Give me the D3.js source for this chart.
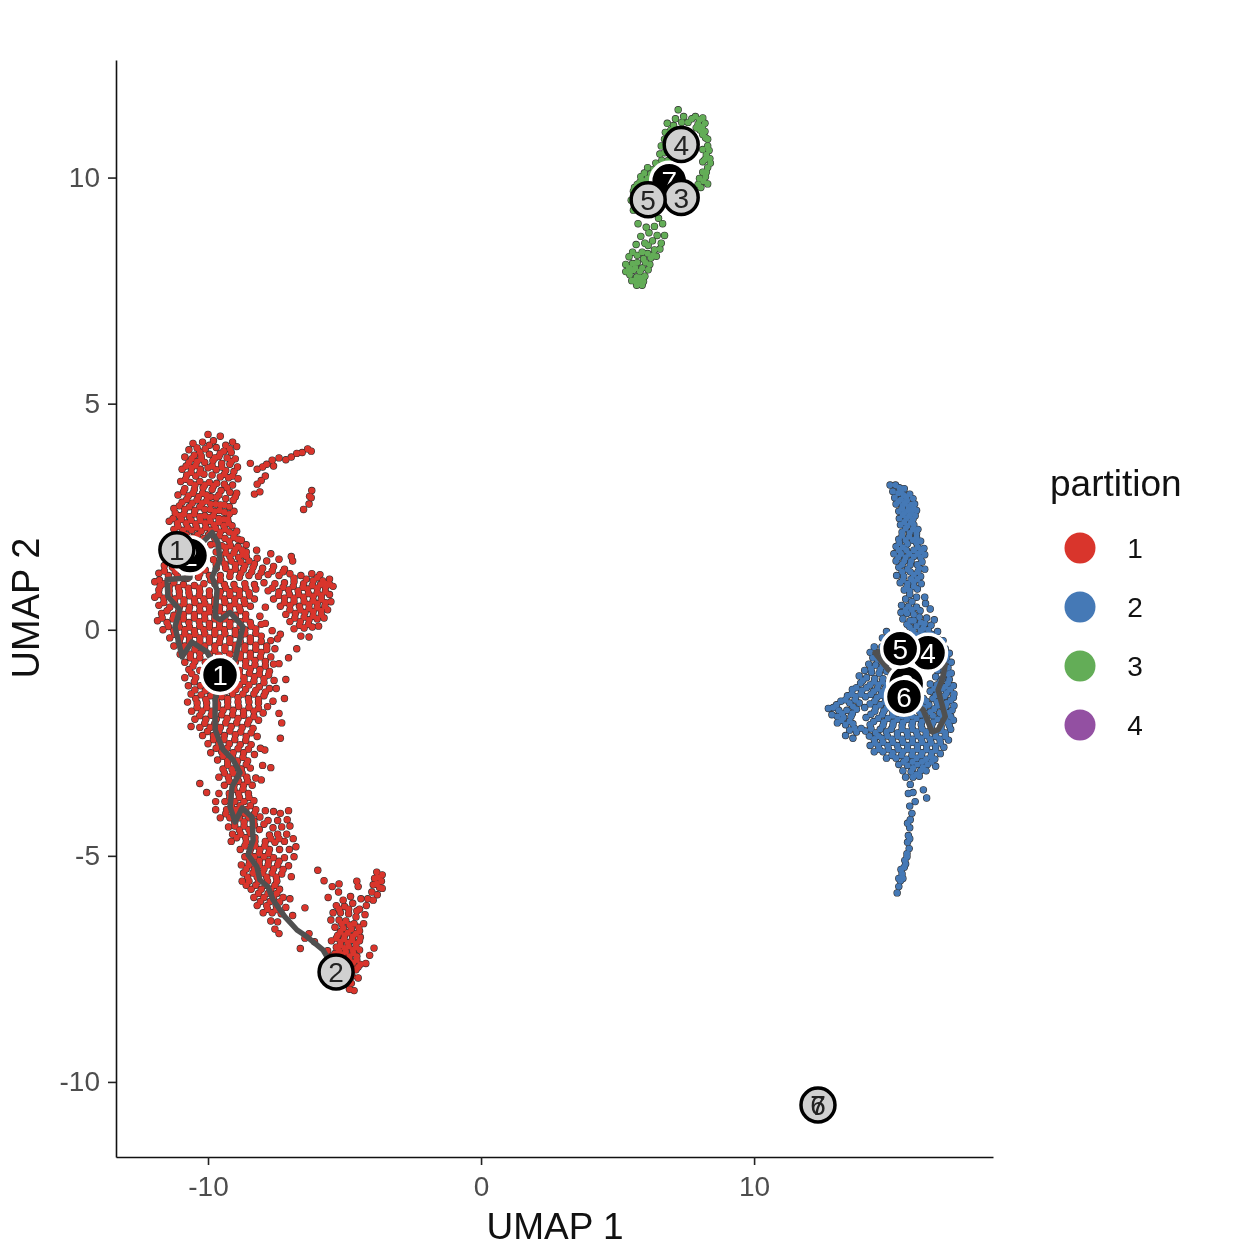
<!DOCTYPE html>
<html>
<head>
<meta charset="utf-8">
<script src="https://cdn.jsdelivr.net/npm/d3@7"></script>
<style>
  body { margin: 0; background: #fff; }
  text { font-family: "Liberation Sans", sans-serif; }
  svg { filter: blur(0.45px); }
</style>
</head>
<body>
<script>
// cells of partition 1 top to bottom
const cellsP1 = [
[-10.0,4.32],[-9.55,4.28],[-9.1,4.15],[-10.55,4.12],[-10.2,4.15],[-9.8,4.18],[-9.35,4.08],[-8.95,4.05],[-10.7,3.98],[-10.4,4.02],[-10.1,4.0],[-9.7,4.03],[-9.42,3.95],[-9.15,3.92],
[-10.85,3.82],[-10.5,3.86],[-10.25,3.84],[-9.95,3.88],[-9.6,3.83],[-9.3,3.8],[-9.0,3.78],[-10.7,3.7],[-10.4,3.72],[-10.12,3.7],[-9.82,3.74],[-9.5,3.68],[-9.2,3.66],[-8.92,3.6],
[-10.95,3.55],[-10.6,3.58],[-10.28,3.55],[-10.0,3.58],[-9.7,3.54],[-9.35,3.52],[-9.05,3.5],[-10.78,3.42],[-10.45,3.4],[-10.15,3.44],[-9.55,3.38],[-9.25,3.36],[-8.9,3.34],
[-11.0,3.28],[-10.65,3.26],[-10.3,3.28],[-9.95,3.26],[-9.68,3.24],[-9.4,3.22],[-9.1,3.2],[-10.85,3.12],[-10.5,3.1],[-10.18,3.14],[-9.85,3.1],[-9.52,3.08],[-9.2,3.04],[-8.95,3.02],
[-11.1,2.98],[-10.72,2.96],[-10.35,2.94],[-10.05,2.98],[-9.7,2.92],[-9.35,2.9],[-9.08,2.86],[-10.95,2.82],[-10.58,2.8],[-10.22,2.8],[-9.9,2.78],[-9.55,2.76],[-9.22,2.72],
[-11.25,2.68],[-10.85,2.66],[-10.48,2.64],[-10.12,2.66],[-9.75,2.62],[-9.4,2.6],[-9.05,2.62],[-11.05,2.52],[-10.68,2.5],[-10.3,2.5],[-9.95,2.48],[-9.6,2.46],[-9.28,2.44],
[-11.42,2.4],[-11.12,2.36],[-10.8,2.36],[-10.45,2.34],[-10.1,2.36],[-9.78,2.32],[-9.42,2.3],[-9.12,2.3],[-11.25,2.22],[-10.92,2.2],[-10.6,2.2],[-10.25,2.18],[-9.9,2.2],[-9.55,2.16],[-9.22,2.16],[-8.95,2.18],
[-11.35,2.04],[-11.0,2.06],[-10.55,2.04],[-10.15,2.02],[-9.75,2.02],[-9.38,2.02],[-9.05,2.04],[-8.78,1.98],[-9.9,1.88],[-9.5,1.86],[-9.18,1.86],[-8.9,1.84],[-8.6,1.88],[-9.7,1.72],[-9.35,1.7],[-9.05,1.7],[-8.72,1.66],
[-9.8,1.55],[-9.5,1.54],[-9.15,1.52],[-8.8,1.5],[-8.5,1.52],[-8.2,1.58],[-7.85,1.52],[-7.4,1.56],[-6.9,1.52],
[-11.6,1.42],[-11.3,1.38],[-10.9,1.34],[-10.5,1.3],[-10.1,1.32],[-9.7,1.36],[-9.35,1.36],[-9.0,1.34],[-8.7,1.34],[-8.35,1.38],[-8.0,1.36],[-7.6,1.4],[-7.2,1.34],
[-11.8,1.25],[-11.45,1.2],[-11.12,1.18],[-10.75,1.14],[-10.35,1.16],[-9.95,1.2],[-9.55,1.2],[-9.2,1.18],[-8.85,1.16],[-8.5,1.2],[-8.15,1.18],[-7.8,1.22],[-7.4,1.2],[-7.0,1.24],[-6.6,1.2],[-6.2,1.24],[-5.9,1.22],
[-11.95,1.06],[-11.6,1.02],[-11.25,1.04],[-10.9,1.0],[-10.5,0.98],[-10.15,1.02],[-9.75,1.02],[-9.4,1.0],[-9.05,1.0],[-8.65,1.02],[-8.3,1.0],[-7.95,1.04],[-7.55,1.02],[-7.2,1.04],[-6.85,1.06],[-6.5,1.02],[-6.15,1.08],[-5.8,1.08],[-5.55,1.12],
[-11.8,0.88],[-11.42,0.86],[-11.05,0.84],[-10.7,0.82],[-10.3,0.84],[-9.95,0.86],[-9.55,0.84],[-9.2,0.84],[-8.85,0.86],[-8.5,0.82],[-7.8,0.86],[-7.4,0.84],[-7.05,0.88],[-6.7,0.86],[-6.35,0.9],[-6.0,0.92],[-5.7,0.94],[-5.42,0.96],
[-11.95,0.72],[-11.62,0.7],[-11.22,0.68],[-10.88,0.66],[-10.5,0.68],[-10.15,0.68],[-9.75,0.66],[-9.4,0.68],[-9.02,0.68],[-8.68,0.66],[-8.3,0.68],[-7.6,0.68],[-7.2,0.7],[-6.85,0.7],[-6.5,0.72],[-6.15,0.74],[-5.85,0.76],[-5.55,0.78],
[-11.8,0.54],[-11.4,0.5],[-11.05,0.5],[-10.68,0.5],[-10.3,0.52],[-9.95,0.5],[-9.58,0.5],[-9.2,0.52],[-8.85,0.5],[-8.45,0.52],[-7.9,0.5],[-7.35,0.52],[-7.0,0.54],[-6.65,0.52],[-6.3,0.56],[-6.0,0.58],[-5.7,0.6],[-5.5,0.62],
[-11.7,0.36],[-11.25,0.32],[-10.9,0.34],[-10.5,0.34],[-10.12,0.34],[-9.75,0.32],[-9.4,0.34],[-9.0,0.32],[-8.62,0.34],[-8.1,0.3],[-7.15,0.34],[-6.8,0.36],[-6.45,0.38],[-6.15,0.4],[-5.85,0.42],[-5.62,0.44],
[-11.85,0.2],[-11.5,0.16],[-11.08,0.16],[-10.7,0.16],[-10.32,0.18],[-9.95,0.14],[-9.58,0.16],[-9.2,0.16],[-8.82,0.18],[-8.45,0.16],[-7.9,0.14],[-7.0,0.18],[-6.62,0.18],[-6.3,0.22],[-6.0,0.24],[-5.75,0.26],
[-11.65,0.0],[-11.25,-0.02],[-10.85,0.0],[-10.5,-0.02],[-10.15,0.0],[-9.75,-0.02],[-9.4,0.0],[-9.0,-0.02],[-8.65,0.0],[-8.25,0.02],[-7.65,-0.02],[-6.85,0.02],[-6.48,0.04],[-6.18,0.06],[-5.95,0.08],
[-11.4,-0.18],[-11.02,-0.18],[-10.68,-0.16],[-10.3,-0.18],[-9.95,-0.18],[-9.55,-0.18],[-9.2,-0.2],[-8.82,-0.16],[-8.45,-0.18],[-8.05,-0.14],[-7.45,-0.2],[-6.6,-0.14],[-6.3,-0.16],
[-11.25,-0.36],[-10.85,-0.36],[-10.48,-0.34],[-10.12,-0.36],[-9.75,-0.36],[-9.38,-0.38],[-9.0,-0.34],[-8.65,-0.36],[-8.25,-0.34],[-7.85,-0.36],[-7.55,-0.42],[-6.75,-0.42],
[-11.02,-0.54],[-10.65,-0.54],[-10.3,-0.52],[-9.95,-0.54],[-9.6,-0.56],[-9.2,-0.54],[-8.82,-0.54],[-8.45,-0.52],[-8.05,-0.5],[-7.7,-0.6],[-10.85,-0.72],[-10.48,-0.7],[-10.1,-0.72],[-9.0,-0.72],[-8.62,-0.7],[-8.28,-0.68],[-7.9,-0.7],[-7.6,-0.76],
[-10.7,-0.88],[-10.3,-0.9],[-8.85,-0.9],[-8.45,-0.86],[-8.1,-0.88],[-7.75,-0.92],[-10.85,-1.06],[-10.45,-1.06],[-8.68,-1.06],[-8.3,-1.04],[-7.95,-1.08],[-7.58,-1.12],
[-10.72,-1.24],[-10.28,-1.24],[-9.95,-1.3],[-9.2,-1.28],[-8.85,-1.22],[-8.5,-1.22],[-8.12,-1.26],[-7.75,-1.3],
[-10.62,-1.42],[-10.25,-1.44],[-9.9,-1.46],[-9.5,-1.48],[-9.1,-1.42],[-8.72,-1.42],[-8.32,-1.42],[-7.95,-1.46],[-10.75,-1.6],[-10.4,-1.62],[-10.05,-1.62],[-9.65,-1.64],[-9.28,-1.6],[-8.9,-1.6],[-8.5,-1.6],[-8.15,-1.62],[-7.82,-1.7],
[-10.6,-1.8],[-10.22,-1.8],[-9.85,-1.8],[-9.45,-1.78],[-9.08,-1.78],[-8.7,-1.8],[-8.32,-1.8],[-7.98,-1.84],[-10.48,-1.98],[-10.08,-1.98],[-9.7,-1.98],[-9.3,-1.96],[-8.9,-1.96],[-8.5,-2.0],[-8.15,-2.0],
[-10.62,-2.14],[-10.3,-2.16],[-9.92,-2.16],[-9.55,-2.16],[-9.15,-2.14],[-8.75,-2.16],[-8.35,-2.18],[-10.2,-2.34],[-9.8,-2.34],[-9.4,-2.34],[-9.0,-2.32],[-8.6,-2.36],[-8.2,-2.36],
[-10.0,-2.52],[-9.6,-2.52],[-9.22,-2.52],[-8.82,-2.54],[-8.42,-2.54],[-8.08,-2.62],[-9.9,-2.72],[-9.5,-2.7],[-9.08,-2.72],[-8.7,-2.72],[-8.3,-2.76],[-9.65,-2.88],[-9.28,-2.9],[-8.92,-2.9],[-8.55,-2.9],[-7.35,-2.4],
[-9.45,-3.08],[-9.12,-3.08],[-8.78,-3.08],[-8.45,-3.06],[-9.6,-3.26],[-9.25,-3.26],[-8.92,-3.26],[-8.58,-3.26],[-8.25,-3.28],[-10.3,-3.4],[-9.4,-3.44],[-9.05,-3.44],[-8.7,-3.44],[-8.38,-3.44],
[-9.6,-3.62],[-9.22,-3.62],[-8.88,-3.62],[-8.52,-3.62],[-9.72,-3.8],[-9.38,-3.8],[-9.02,-3.8],[-8.68,-3.8],[-8.32,-3.78],[-9.72,-3.98],[-9.32,-3.98],[-8.98,-3.98],[-8.62,-3.98],[-8.25,-3.98],[-7.9,-4.0],[-7.6,-4.02],
[-9.55,-4.16],[-9.2,-4.16],[-8.85,-4.16],[-8.5,-4.16],[-8.1,-4.14],[-7.35,-4.06],[-7.05,-4.0],[-7.45,-4.22],[-7.1,-4.2],
[-9.25,-4.36],[-9.02,-4.34],[-8.68,-4.34],[-8.3,-4.32],[-7.95,-4.3],[-7.62,-4.38],[-7.3,-4.36],[-7.0,-4.34],[-9.1,-4.52],[-8.8,-4.52],[-8.45,-4.5],[-7.75,-4.54],[-7.45,-4.52],[-7.12,-4.52],[-9.15,-4.68],[-8.6,-4.7],[-8.28,-4.68],[-7.9,-4.68],[-7.55,-4.7],[-7.2,-4.68],[-6.88,-4.62],
[-8.82,-4.86],[-8.45,-4.86],[-8.1,-4.86],[-7.75,-4.86],[-7.38,-4.86],[-7.02,-4.86],[-6.78,-4.8],[-8.65,-5.02],[-8.3,-5.02],[-7.95,-5.02],[-7.6,-5.04],[-7.2,-5.04],[-6.85,-5.02],[-8.78,-5.2],[-8.5,-5.2],[-8.12,-5.2],[-7.8,-5.2],[-7.45,-5.2],[-7.05,-5.22],
[-8.7,-5.38],[-8.35,-5.38],[-8.0,-5.38],[-7.65,-5.38],[-7.3,-5.4],[-6.95,-5.46],[-8.75,-5.56],[-8.5,-5.56],[-8.15,-5.56],[-7.82,-5.56],[-7.48,-5.56],[-8.42,-5.74],[-8.05,-5.74],[-7.7,-5.74],[-7.38,-5.74],[-8.32,-5.92],[-7.95,-5.92],[-7.6,-5.92],[-7.25,-5.92],[-7.0,-5.95],
[-8.2,-6.1],[-7.85,-6.1],[-7.5,-6.1],[-7.15,-6.14],[-7.98,-6.26],[-7.65,-6.26],[-7.32,-6.28],[-7.7,-6.44],[-7.45,-6.46],[-7.55,-6.62],[-7.4,-6.72],
[-5.98,-5.32],[-5.75,-5.55],[-5.45,-5.68],[-5.2,-5.62],[-5.6,-5.92],[-5.22,-5.8],[-3.82,-5.36],[-3.62,-5.42],[-3.9,-5.5],[-3.65,-5.56],[-3.95,-5.64],[-3.72,-5.7],[-3.62,-5.72],[-4.55,-5.56],[-4.5,-5.68],[-4.0,-5.8],[-3.8,-5.86],[-4.15,-5.95],[-4.4,-5.95],[-3.95,-5.98],
[-5.05,-5.98],[-4.78,-5.9],[-4.7,-6.05],[-5.3,-6.1],[-5.0,-6.12],[-4.2,-6.1],[-4.45,-6.18],[-5.42,-6.26],[-5.15,-6.26],[-4.85,-6.28],[-4.58,-6.35],[-4.25,-6.3],[-5.5,-6.42],[-5.2,-6.42],[-4.95,-6.44],[-4.65,-6.5],[-4.3,-6.5],
[-5.35,-6.58],[-5.05,-6.6],[-4.75,-6.62],[-4.45,-6.66],[-5.25,-6.76],[-5.0,-6.76],[-4.7,-6.78],[-4.42,-6.8],[-5.48,-6.88],[-5.15,-6.9],[-4.88,-6.92],[-4.58,-6.94],[-5.3,-7.02],[-5.0,-7.04],[-4.7,-7.08],[-4.45,-7.08],
[-5.62,-7.1],[-5.35,-7.16],[-5.08,-7.18],[-4.82,-7.22],[-4.55,-7.22],[-3.92,-7.04],[-4.08,-7.2],[-4.22,-7.38],[-5.62,-7.26],[-5.22,-7.3],[-4.95,-7.32],[-4.68,-7.36],[-4.42,-7.4],[-4.85,-7.5],[-4.58,-7.52],[-4.72,-7.66],[-4.5,-7.7],[-4.75,-7.82],[-4.82,-7.95],[-4.65,-7.98],
[-6.45,-6.15],[-6.9,-6.32],[-6.62,-7.05],[-6.45,-6.82],[-6.1,-6.9],[-6.3,-6.72]
];

const cellsP1Extra = [
// streak up and to the right, and the few cells under it
[-8.45,3.68],[-8.2,3.55],[-8.0,3.6],[-7.85,3.66],[-7.6,3.62],[-7.9,3.4],[-8.05,3.3],[-8.2,3.22],[-8.1,3.05],[-8.3,3.0],[-7.65,3.75],[-7.4,3.8],[-7.15,3.76],[-6.95,3.82],[-6.75,3.9],[-6.55,3.92],[-6.35,4.0],[-6.22,3.95],
[-6.2,3.08],[-6.22,2.92],[-6.3,2.78],[-6.5,2.66],[-6.28,2.95],
// loose cells round the main body
[-8.22,1.76],[-7.7,1.68],[-6.95,1.62],[-8.6,1.72],[-8.05,0.12],[-7.35,-0.1],[-7.05,-0.62],[-7.4,-0.75],[-7.15,-1.1],[-7.5,-1.3],[-7.2,-1.52],[-7.62,-1.58],[-7.3,-2.06],[-7.4,-1.85],
[-10.05,-3.6],[-8.05,-3.32],[-7.92,-2.66],[-8.0,-3.0],[-7.7,-3.05]
];

// second pass over the dense parts of partition 1
const cellsP1Fill = [
[-10.3,3.93],[-9.95,4.08],[-9.55,3.9],[-9.2,4.0],[-10.6,3.78],[-10.25,3.78],[-9.75,3.8],[-9.15,3.72],[-10.8,3.62],[-10.45,3.63],[-9.85,3.62],[-9.5,3.6],[-10.62,3.48],[-10.3,3.47],[-9.85,3.42],[-9.4,3.44],[-9.1,3.4],
[-10.82,3.33],[-10.48,3.2],[-10.12,3.2],[-9.8,3.18],[-9.3,3.14],[-9.6,2.98],[-10.9,3.05],[-10.55,3.02],[-10.2,3.02],[-9.9,2.94],[-9.0,2.94],[-10.78,2.88],[-10.4,2.87],[-10.05,2.85],[-9.72,2.78],[-9.4,2.76],
[-11.05,2.74],[-10.68,2.72],[-10.3,2.72],[-9.92,2.66],[-9.58,2.64],[-9.22,2.56],[-11.2,2.58],[-10.88,2.56],[-10.5,2.56],[-10.12,2.52],[-9.8,2.52],[-9.42,2.44],[-11.28,2.46],[-10.98,2.44],[-10.62,2.42],[-10.28,2.42],[-9.92,2.4],[-9.6,2.38],[-9.25,2.36],
[-11.1,2.28],[-10.75,2.26],[-10.42,2.26],[-10.08,2.26],[-9.72,2.24],[-9.38,2.22],[-9.05,2.12],[-11.18,2.12],[-10.8,2.1],[-10.38,2.1],[-9.98,2.1],[-9.58,2.08],[-9.22,1.96],[-8.9,2.0],[-9.72,1.9],[-9.35,1.82],[-9.0,1.78],[-8.75,1.76],[-9.55,1.64],[-9.2,1.62],[-8.88,1.6],[-8.6,1.62],[-8.3,1.46],[-8.65,1.42],[-9.0,1.44],[-9.38,1.45],[-9.7,1.45],
[-11.78,1.1],[-11.6,1.3],[-11.2,1.28],[-10.7,1.25],[-10.3,1.24],[-9.9,1.1],[-9.55,1.1],[-9.18,1.27],[-8.8,1.25],[-8.4,1.28],[-8.05,1.27],[-7.65,1.3],[-7.25,1.28],[-6.85,1.14],[-6.4,1.12],[-6.0,1.15],[-5.7,1.02],
[-11.75,0.97],[-11.42,0.95],[-11.08,0.93],[-10.72,0.92],[-10.32,0.92],[-9.35,0.92],[-9.0,0.9],[-8.62,0.92],[-8.25,0.9],[-7.65,0.92],[-7.25,0.94],[-6.88,0.96],[-6.52,0.94],[-6.18,0.98],[-5.88,1.0],[-5.55,1.0],
[-11.8,0.78],[-11.42,0.76],[-11.05,0.75],[-10.68,0.75],[-10.32,0.76],[-9.95,0.76],[-9.58,0.75],[-9.2,0.76],[-8.85,0.76],[-8.48,0.75],[-7.42,0.76],[-7.02,0.78],[-6.68,0.78],[-6.32,0.8],[-6.0,0.82],[-5.7,0.84],
[-11.62,0.6],[-11.22,0.58],[-10.88,0.58],[-10.48,0.6],[-10.12,0.58],[-9.75,0.58],[-9.38,0.6],[-9.02,0.58],[-8.65,0.58],[-7.2,0.6],[-6.85,0.62],[-6.48,0.62],[-6.15,0.64],[-5.85,0.67],
[-11.5,0.42],[-11.08,0.4],[-10.7,0.42],[-10.3,0.42],[-9.95,0.4],[-9.58,0.42],[-9.2,0.42],[-8.82,0.42],[-7.0,0.44],[-6.62,0.44],[-6.3,0.47],[-6.0,0.49],[-5.72,0.52],
[-11.68,0.26],[-11.28,0.24],[-10.9,0.24],[-10.5,0.26],[-10.12,0.24],[-9.75,0.24],[-9.38,0.24],[-9.0,0.24],[-8.62,0.24],[-6.82,0.26],[-6.48,0.28],[-6.15,0.3],[-5.85,0.33],
[-11.45,0.07],[-11.05,0.06],[-10.68,0.06],[-10.3,0.08],[-9.95,0.06],[-9.58,0.06],[-9.2,0.08],[-8.82,0.08],[-8.42,0.08],[-6.65,0.1],[-6.32,0.12],
[-11.22,-0.1],[-10.85,-0.09],[-10.48,-0.1],[-10.12,-0.09],[-9.75,-0.1],[-9.38,-0.09],[-9.0,-0.1],[-8.65,-0.09],[-8.25,-0.08],[-11.05,-0.27],[-10.68,-0.26],[-10.3,-0.27],[-9.95,-0.27],[-9.58,-0.28],[-9.2,-0.28],[-8.82,-0.26],[-8.45,-0.26],[-8.05,-0.26],[-7.7,-0.24],
[-10.85,-0.45],[-10.48,-0.44],[-10.12,-0.45],[-9.75,-0.46],[-9.38,-0.46],[-9.0,-0.45],[-8.65,-0.44],[-8.25,-0.43],[-7.85,-0.44],[-10.65,-0.62],[-10.3,-0.62],[-8.82,-0.62],[-8.45,-0.6],[-8.08,-0.6],[-10.55,-0.8],[-8.62,-0.8],[-8.28,-0.78],[-7.9,-0.8],[-10.6,-0.97],[-8.85,-1.0],[-8.48,-0.96],[-8.12,-0.98],[-7.78,-1.0],
[-10.5,-1.15],[-10.1,-1.14],[-8.68,-1.14],[-8.32,-1.14],[-7.95,-1.17],[-10.48,-1.33],[-10.1,-1.35],[-9.7,-1.38],[-9.35,-1.36],[-8.98,-1.32],[-8.62,-1.32],[-8.25,-1.34],[-7.9,-1.38],[-10.45,-1.52],[-10.08,-1.54],[-9.7,-1.55],[-9.28,-1.52],[-8.9,-1.5],[-8.52,-1.52],[-8.15,-1.54],
[-10.4,-1.72],[-10.05,-1.72],[-9.65,-1.72],[-9.28,-1.7],[-8.88,-1.7],[-8.5,-1.72],[-8.15,-1.74],[-10.3,-1.9],[-9.88,-1.89],[-9.5,-1.88],[-9.1,-1.88],[-8.7,-1.89],[-8.32,-1.92],[-10.12,-2.07],[-9.75,-2.07],[-9.35,-2.06],[-8.95,-2.06],[-8.55,-2.08],[-10.02,-2.25],[-9.6,-2.25],[-9.2,-2.24],[-8.8,-2.26],[-8.42,-2.28],[-9.8,-2.43],[-9.42,-2.43],[-9.02,-2.43],[-8.62,-2.45],[-9.7,-2.62],[-9.3,-2.62],[-8.9,-2.63],[-8.52,-2.64],
[-9.45,-2.8],[-9.1,-2.82],[-8.72,-2.82],[-9.28,-2.99],[-8.95,-2.99],[-8.6,-2.98],[-9.4,-3.17],[-9.08,-3.17],[-8.75,-3.17],[-9.22,-3.35],[-8.88,-3.35],[-8.55,-3.35],[-9.05,-3.53],[-8.72,-3.53],[-9.2,-3.71],[-8.85,-3.71],[-8.5,-3.71],[-9.15,-3.89],[-8.82,-3.89],[-8.45,-3.89],[-9.35,-4.07],[-8.98,-4.07],[-8.65,-4.07],[-8.3,-4.07],
[-9.02,-4.25],[-8.68,-4.25],[-8.32,-4.23],[-7.8,-4.22],[-8.85,-4.43],[-8.5,-4.42],[-8.12,-4.42],[-8.95,-4.6],[-8.62,-4.6],[-8.28,-4.6],[-7.4,-4.62],[-7.7,-4.62],[-8.65,-4.78],[-8.28,-4.78],[-7.92,-4.78],[-8.48,-4.94],[-8.12,-4.94],[-7.78,-4.95],[-8.48,-5.11],[-8.12,-5.11],[-7.78,-5.12],[-7.4,-5.12],
[-8.6,-5.29],[-8.3,-5.29],[-7.95,-5.29],[-7.6,-5.29],[-7.25,-5.3],[-8.55,-5.47],[-8.2,-5.47],[-7.85,-5.47],[-7.5,-5.47],[-8.6,-5.65],[-8.25,-5.65],[-7.9,-5.65],[-7.55,-5.65],[-8.15,-5.83],[-7.8,-5.83],[-7.48,-5.83],[-8.08,-6.01],[-7.72,-6.01],[-7.38,-6.02],[-7.82,-6.18],[-7.5,-6.19],
[-5.1,-6.5],[-4.82,-6.53],[-4.48,-6.58],[-5.15,-6.68],[-4.88,-6.7],[-4.58,-6.72],[-5.3,-6.82],[-5.02,-6.84],[-4.72,-6.86],[-4.45,-6.88],[-5.15,-6.97],[-4.85,-7.0],[-4.58,-7.02],[-5.2,-7.1],[-4.95,-7.12],[-4.68,-7.15],[-5.45,-7.22],[-5.1,-7.24],[-4.82,-7.28],[-4.55,-7.3],[-5.02,-7.42],[-4.75,-7.44],[-4.5,-7.46],
[-4.85,-6.18],[-5.2,-6.18],[-4.55,-6.22],[-3.82,-5.62],[-3.78,-5.48]
];

// partition 2
const cellsP2 = [
[14.98,3.2],[15.18,3.2],[15.32,3.14],[15.5,3.12],[15.08,3.06],[15.28,3.02],[15.48,2.98],[15.7,3.0],[15.15,2.92],[15.38,2.88],[15.6,2.86],[15.82,2.9],[15.2,2.78],[15.44,2.74],[15.66,2.72],[15.88,2.78],[15.3,2.62],[15.52,2.6],[15.75,2.58],[15.95,2.64],
[15.32,2.46],[15.58,2.46],[15.82,2.44],[15.36,2.32],[15.62,2.3],[15.85,2.32],[16.0,2.22],[15.42,2.16],[15.7,2.14],[15.95,2.12],[15.3,2.0],[15.55,1.98],[15.82,1.98],[16.1,1.96],[15.2,1.84],[15.45,1.82],[16.0,1.82],[16.22,1.8],[15.12,1.68],[15.38,1.68],[15.68,1.68],[16.0,1.68],[16.25,1.66],
[15.2,1.52],[15.5,1.52],[15.75,1.52],[16.15,1.5],[15.3,1.38],[15.62,1.34],[16.05,1.36],[16.25,1.34],[15.22,1.2],[15.48,1.18],[15.85,1.22],[16.1,1.18],[15.35,1.04],[15.62,1.02],[15.85,1.06],[16.12,1.02],[15.5,0.88],[15.7,0.86],[15.98,0.9],
[16.25,0.72],[15.95,0.72],[15.55,0.68],[15.4,0.54],[15.65,0.52],[15.95,0.5],[16.28,0.58],[16.45,0.46],[15.38,0.38],[15.6,0.36],[15.85,0.34],[15.45,0.24],[15.72,0.2],[16.05,0.28],[16.32,0.26],[16.6,0.22],[15.7,0.06],[15.95,0.08],[16.2,0.04],[16.48,0.1],[16.1,0.16],
[14.85,-0.04],[15.0,-0.14],[14.7,-0.18],[15.7,-0.1],[15.95,-0.12],[16.22,-0.1],[16.5,-0.1],[16.72,-0.04],[15.05,-0.3],[16.75,-0.22],[16.92,-0.24],[14.68,-0.38],[14.4,-0.38],[14.58,-0.5],[14.25,-0.5],[17.0,-0.42],[17.15,-0.52],
[14.35,-0.62],[14.6,-0.66],[14.8,-0.62],[17.05,-0.62],[17.22,-0.72],[14.2,-0.76],[14.45,-0.78],[14.7,-0.8],[16.85,-0.78],[17.1,-0.84],[14.05,-0.9],[14.3,-0.94],[14.58,-0.96],[14.85,-0.92],[16.72,-0.9],[16.95,-0.94],[17.22,-0.96],
[13.85,-1.02],[14.12,-1.06],[14.42,-1.08],[14.72,-1.08],[15.0,-1.06],[16.65,-1.04],[16.9,-1.08],[17.15,-1.1],[13.9,-1.18],[14.25,-1.22],[14.55,-1.22],[14.85,-1.22],[15.05,-1.28],[16.45,-1.2],[16.7,-1.22],[17.0,-1.26],[17.3,-1.24],
[13.6,-1.32],[13.95,-1.34],[14.38,-1.36],[14.68,-1.38],[14.95,-1.38],[16.45,-1.36],[16.75,-1.38],[17.05,-1.4],[17.32,-1.42],[13.42,-1.46],[13.72,-1.48],[14.08,-1.48],[14.5,-1.5],[14.82,-1.52],[16.2,-1.52],[16.55,-1.52],[16.85,-1.54],[17.2,-1.56],
[13.18,-1.58],[13.5,-1.62],[13.85,-1.62],[14.25,-1.64],[14.62,-1.66],[15.0,-1.66],[16.1,-1.66],[16.4,-1.66],[16.72,-1.68],[17.02,-1.7],[17.32,-1.68],
[12.72,-1.74],[12.9,-1.72],[13.1,-1.78],[13.4,-1.78],[13.75,-1.76],[14.42,-1.8],[14.75,-1.8],[15.08,-1.82],[15.4,-1.84],[15.75,-1.84],[16.05,-1.8],[16.45,-1.82],[16.8,-1.84],[17.12,-1.84],
[12.85,-1.88],[13.05,-1.92],[13.28,-1.94],[13.55,-1.92],[14.1,-1.94],[14.55,-1.96],[14.9,-1.96],[15.25,-1.98],[15.6,-1.98],[15.95,-1.96],[16.3,-1.96],[16.72,-1.98],[17.0,-1.98],[17.3,-2.0],
[13.05,-2.06],[13.35,-2.1],[13.62,-2.08],[14.25,-2.1],[14.72,-2.12],[15.08,-2.12],[15.42,-2.12],[15.78,-2.12],[16.12,-2.1],[16.5,-2.12],[16.85,-2.14],[17.15,-2.12],[13.5,-2.22],[13.75,-2.26],[14.08,-2.24],[14.45,-2.28],[14.85,-2.26],[15.25,-2.28],[15.6,-2.26],[15.95,-2.26],[16.3,-2.26],[16.65,-2.28],[17.0,-2.28],
[13.35,-2.34],[13.62,-2.4],[14.4,-2.42],[14.68,-2.4],[15.05,-2.42],[15.42,-2.42],[15.8,-2.42],[16.12,-2.4],[16.45,-2.42],[16.8,-2.42],[17.12,-2.44],[14.25,-2.56],[14.55,-2.56],[14.9,-2.56],[15.25,-2.56],[15.62,-2.56],[15.98,-2.56],[16.32,-2.56],[16.65,-2.58],[16.95,-2.6],
[14.4,-2.7],[14.72,-2.7],[15.08,-2.72],[15.45,-2.7],[15.8,-2.7],[16.15,-2.72],[16.5,-2.72],[16.82,-2.74],[14.85,-2.84],[15.2,-2.84],[15.58,-2.86],[15.95,-2.84],[16.3,-2.86],[16.62,-2.86],[15.3,-2.98],[15.62,-3.0],[15.98,-2.98],[16.35,-2.98],[16.65,-3.02],[15.45,-3.12],[15.75,-3.14],[16.1,-3.12],[16.3,-3.12],[15.55,-3.26],[15.82,-3.26],[16.05,-3.24],
[15.72,-3.42],[15.65,-3.62],[15.82,-3.6],[16.2,-3.54],[16.32,-3.72],[15.7,-3.9],[15.78,-4.06],[15.72,-4.2],[15.9,-3.8],[15.7,-4.38],[15.65,-4.55],[15.62,-4.7],[15.68,-4.84],[15.6,-4.95],[15.52,-5.1],[15.5,-5.25],[15.42,-5.4],[15.36,-5.55],[15.3,-5.68],[15.24,-5.82],[15.38,-5.3],[15.3,-5.5]
];

// second pass over partition 2
const cellsP2Fill = [
[15.38,3.04],[15.58,2.94],[15.3,2.84],[15.52,2.8],[15.75,2.76],[15.42,2.68],[15.65,2.65],[15.85,2.66],[15.45,2.54],[15.68,2.52],[15.9,2.52],[15.5,2.38],[15.75,2.38],[15.55,2.24],[15.82,2.22],[15.42,2.08],[15.68,2.06],[15.95,2.04],[15.32,1.92],[15.62,1.9],[15.95,1.92],[15.3,1.76],[15.58,1.76],[15.85,1.76],[16.12,1.74],[15.28,1.6],[15.55,1.6],[15.85,1.62],[16.1,1.6],[15.42,1.44],[15.72,1.44],[15.98,1.44],[15.42,1.28],[15.72,1.28],[16.0,1.28],[15.45,1.1],[15.75,1.12],[15.98,1.12],[15.6,0.95],[15.85,0.96],[15.7,0.78],[15.78,0.62],[15.55,0.44],[15.78,0.44],[16.08,0.42],[15.6,0.12],[15.85,0.2],[16.25,0.14],[16.38,0.0],[16.1,-0.02],[15.82,-0.02],
[14.52,-0.66],[14.92,-0.72],[14.28,-0.86],[14.62,-0.88],[16.98,-0.72],[17.12,-0.98],[13.98,-1.12],[14.4,-1.15],[14.7,-1.15],[14.98,-1.15],[16.82,-1.15],[17.1,-1.18],[13.75,-1.28],[14.12,-1.28],[14.52,-1.3],[14.8,-1.3],[16.6,-1.3],[16.9,-1.3],[17.18,-1.32],[13.58,-1.42],[13.92,-1.42],[14.28,-1.43],[14.65,-1.45],[16.65,-1.45],[16.98,-1.47],[17.3,-1.5],
[13.35,-1.55],[13.7,-1.55],[14.42,-1.58],[14.8,-1.6],[16.3,-1.58],[16.7,-1.6],[17.05,-1.62],[13.02,-1.66],[13.62,-1.7],[14.05,-1.72],[14.45,-1.72],[14.85,-1.73],[15.22,-1.74],[15.58,-1.75],[15.92,-1.72],[16.25,-1.72],[16.6,-1.75],[16.95,-1.76],[17.25,-1.78],
[13.22,-1.85],[13.6,-1.85],[14.28,-1.87],[14.7,-1.88],[15.08,-1.9],[15.42,-1.91],[15.78,-1.91],[16.12,-1.88],[16.55,-1.9],[16.9,-1.91],[17.2,-1.92],[13.2,-2.0],[13.5,-2.02],[14.38,-2.03],[14.75,-2.04],[15.1,-2.05],[15.45,-2.05],[15.8,-2.05],[16.15,-2.03],[16.55,-2.05],[17.1,-2.05],[13.68,-2.18],[13.92,-2.18],[14.28,-2.19],[14.62,-2.2],[15.02,-2.2],[15.42,-2.2],[15.8,-2.2],[16.15,-2.19],[16.48,-2.2],[16.85,-2.22],[17.2,-2.2],
[14.22,-2.35],[14.55,-2.35],[14.88,-2.35],[15.25,-2.35],[15.62,-2.35],[15.98,-2.34],[16.3,-2.34],[16.65,-2.36],[17.0,-2.36],[14.42,-2.5],[14.72,-2.49],[15.08,-2.49],[15.45,-2.49],[15.8,-2.49],[16.15,-2.49],[16.48,-2.5],[16.82,-2.5],[14.58,-2.64],[14.92,-2.64],[15.28,-2.64],[15.62,-2.64],[15.98,-2.64],[16.32,-2.65],[16.65,-2.66],[15.05,-2.78],[15.4,-2.78],[15.78,-2.78],[16.12,-2.78],[16.48,-2.8],[15.48,-2.92],[15.8,-2.92],[16.15,-2.92],[16.5,-2.92],[15.82,-3.06],[16.18,-3.05],[15.95,-3.2],
[15.55,-5.18],[15.45,-5.5],[15.6,-5.02],[15.7,-4.62],[15.62,-4.28]
];

// partition 3
const cellsP3 = [
[7.22,11.5],[7.85,11.35],[7.12,11.3],[7.42,11.35],[8.12,11.32],[6.82,11.2],[7.05,11.15],[7.58,11.22],[7.95,11.18],[8.2,11.2],[6.75,11.0],[8.02,11.05],[8.2,11.02],[6.72,10.85],[8.22,10.88],[6.6,10.7],[8.3,10.7],[6.72,10.55],[8.25,10.5],
[8.38,10.42],[6.4,10.32],[6.62,10.38],[6.85,10.38],[8.12,10.35],[8.3,10.22],[6.1,10.22],[6.32,10.18],[6.55,10.1],[8.12,10.12],[5.85,10.02],[5.95,9.92],[6.1,9.98],[6.32,9.95],[8.0,9.98],[8.22,10.02],[5.72,9.85],[5.88,9.78],[8.3,9.86],[8.05,9.78],[5.58,9.7],[5.72,9.62],[5.5,9.5],[5.58,9.28],[6.5,9.1],[6.65,8.98],[5.75,8.98],[6.05,8.9],[6.35,8.92],[6.72,8.72],[5.85,8.7],[6.15,8.78],[6.45,8.72],[6.6,8.55],[5.68,8.52],[6.12,8.5],[6.35,8.4],[6.55,8.42],[5.42,8.25],[5.72,8.28],[6.22,8.22],[6.42,8.26],[6.18,8.08],[6.02,8.12],[5.55,8.1],[5.3,8.08],[5.9,8.0],[5.58,7.95],[5.82,7.92],[6.12,7.96],[5.3,7.92],[5.45,7.85],[5.7,7.8],[6.0,7.82],[5.52,7.72],[5.78,7.7],[5.95,7.7],[5.7,7.62]
];

const cellsP3Fill = [
[7.35,11.22],[7.72,11.3],[8.0,11.28],[6.95,11.05],[7.88,11.1],[8.1,11.12],[6.88,10.95],[8.12,10.95],[8.3,10.85],[6.78,10.68],[8.12,10.62],[8.35,10.6],[6.55,10.52],[8.4,10.32],[8.2,10.4],[6.22,10.08],[6.45,9.98],[8.25,10.12],[8.15,9.92],[5.98,10.1],[5.62,9.78],[5.82,9.9],[7.95,9.85],[6.0,8.55],[6.28,8.6],[5.9,8.35],[5.55,8.35],[6.1,8.32],[6.3,8.28],[5.72,8.12],[5.42,8.0],[5.65,8.0],[5.95,8.2],[5.45,7.98],[5.62,7.72],[5.85,7.78],[5.9,7.62]
];

// empty on the plot, only in the legend
const partitions = ["1", "2", "3", "4"];
const partitionColours = ["#d9352c", "#4579b6", "#63ad57", "#9350a2"];

// principal graph
const trunkA = [[-10.66,1.64],[-9.85,2.15],[-9.63,1.92],[-9.56,1.55],[-9.85,1.17],[-9.67,0.88],[-9.74,0.29],[-9.56,0.22],[-9.19,0.38],[-8.72,0.07],[-8.9,-0.38],[-9.01,-0.66],[-9.56,-1.0]];
const trunkB = [[-10.66,1.64],[-10.66,1.15],[-11.5,1.11],[-11.47,0.73],[-11.03,0.44],[-11.21,0.07],[-10.95,-0.6],[-10.59,-0.27],[-10.04,-0.49],[-9.56,-1.0]];
const trunkC = [[-9.56,-1.0],[-9.74,-1.55],[-9.74,-2.21],[-9.45,-2.65],[-9.08,-2.88],[-8.83,-3.16],[-9.12,-3.47],[-9.19,-3.92],[-9.01,-4.25],[-8.75,-3.94],[-8.39,-4.14],[-8.35,-4.65],[-8.53,-4.98],[-8.21,-5.24],[-8.1,-5.53],[-7.8,-5.69],[-7.62,-5.97],[-7.18,-6.35],[-6.74,-6.64],[-6.37,-6.79],[-5.79,-7.08],[-5.31,-7.57]];
const trunkD = [[15.57,-1.19],[14.91,-0.88],[14.43,-0.51],[15.35,-0.42]];
const trunkE = [[15.49,-1.48],[16.19,-1.77],[16.52,-2.26],[16.74,-2.21],[17.0,-1.92],[16.74,-1.33],[16.92,-1.04],[17.0,-0.77],[16.37,-0.51]];
const trajectory = [trunkA, trunkB, trunkC, trunkD, trunkE];

// numbered nodes: x, y, label
const branchNodes = [[-10.66,1.64,"2"],[-9.56,-1.0,"1"],[6.89,9.93,"7"],[15.57,-1.19,"3"],[16.37,-0.51,"4"],[15.35,-0.42,"5"],[15.49,-1.48,"6"]];
const leafNodes = [[-11.14,1.77,"1"],[-5.31,-7.57,"2"],[7.33,10.73,"4"],[7.33,9.56,"3"],[6.12,9.51,"5"],[12.34,-10.51,"6"]];
const leafOverprint = [[12.34,-10.51,"7"]];

const xTicks = [-10, 0, 10];
const yTicks = [-10, -5, 0, 5, 10];

const svg = d3.select("body").append("svg")
  .attr("width", 1242)
  .attr("height", 1252)
  .style("display", "block");

let x = d3.scaleLinear().domain([-13.37, 18.75]).range([116, 993]);
let y = d3.scaleLinear().domain([-11.66, 12.6]).range([1157, 60]);

const plot = svg.append("g");

const groups = [
  {cells: cellsP1.concat(cellsP1Extra, cellsP1Fill), colour: partitionColours[0]},
  {cells: cellsP2.concat(cellsP2Fill), colour: partitionColours[1]},
  {cells: cellsP3.concat(cellsP3Fill), colour: partitionColours[2]}
];

// black dots underneath, coloured dots on top, so only the rims show
groups.forEach(g => {
  plot.append("g").selectAll("circle")
    .data(g.cells)
    .enter()
    .append("circle")
    .attr("cx", d => x(d[0]))
    .attr("cy", d => y(d[1]))
    .attr("r", 3.7)
    .attr("fill", "#2b2b2b");
  plot.append("g").selectAll("circle")
    .data(g.cells)
    .enter()
    .append("circle")
    .attr("cx", d => x(d[0]))
    .attr("cy", d => y(d[1]))
    .attr("r", 3.1)
    .attr("fill", g.colour);
});

const line = d3.line().x(d => x(d[0])).y(d => y(d[1]));
plot.append("g").selectAll("path")
  .data(trajectory)
  .enter()
  .append("path")
  .attr("d", line)
  .attr("fill", "none")
  .attr("stroke", "#505050")
  .attr("stroke-width", 5.5)
  .attr("stroke-linejoin", "round")
  .attr("stroke-linecap", "round");

// axes
const xAxis = d3.axisBottom(x).tickValues(xTicks).tickSize(8).tickSizeOuter(0).tickPadding(11).tickFormat(d3.format("d"));
const yAxis = d3.axisLeft(y).tickValues(yTicks).tickSize(8).tickSizeOuter(0).tickPadding(8).tickFormat(d3.format("d"));

const xG = svg.append("g").attr("transform", "translate(0,1157)").call(xAxis);
const yG = svg.append("g").attr("transform", "translate(116,0)").call(yAxis);

[xG, yG].forEach(a => {
  a.select(".domain").attr("stroke", "#111").attr("stroke-width", 1.6);
  a.selectAll(".tick line").attr("stroke", "#222").attr("stroke-width", 1.6);
  a.selectAll(".tick text")
    .attr("fill", "#4d4d4d")
    .style("font-size", "28px")
    .style("font-family", "'Liberation Sans', sans-serif");
});
// the axis uses a plain hyphen in the reference
svg.selectAll(".tick text").text(function() { return this.textContent.replace("\u2212", "-"); });

svg.append("text")
  .attr("x", 555)
  .attr("y", 1239)
  .attr("text-anchor", "middle")
  .attr("font-size", 37)
  .attr("fill", "#111")
  .text("UMAP 1");

svg.append("text")
  .attr("transform", "translate(39,608) rotate(-90)")
  .attr("text-anchor", "middle")
  .attr("font-size", 38)
  .attr("fill", "#111")
  .text("UMAP 2");

function drawNodes(data, fill, ring, ringWidth, r, textFill) {
  const n = svg.append("g").selectAll("g")
    .data(data)
    .enter()
    .append("g")
    .attr("transform", d => "translate(" + x(d[0]) + "," + y(d[1]) + ")");
  n.append("circle")
    .attr("r", r)
    .attr("fill", fill)
    .attr("stroke", ring)
    .attr("stroke-width", ringWidth);
  n.append("text")
    .attr("text-anchor", "middle")
    .attr("dy", "0.36em")
    .attr("font-size", 28)
    .attr("fill", textFill)
    .text(d => d[2]);
}

drawNodes(branchNodes, "#000", "#fff", 3.5, 18.5, "#fff");
drawNodes(leafNodes, "#d0d0d0", "#000", 3.5, 17, "#222");
drawNodes(leafOverprint, "none", "none", 0, 17, "#222");

// legend
const legendY = d3.scalePoint().domain(partitions).range([548, 725]);

svg.append("text")
  .attr("x", 1050)
  .attr("y", 496)
  .attr("font-size", 37)
  .attr("fill", "#111")
  .text("partition");

const legendRow = svg.append("g").selectAll("g")
  .data(partitions)
  .enter()
  .append("g")
  .attr("transform", d => "translate(1080," + legendY(d) + ")");

legendRow.append("circle")
  .attr("r", 15.5)
  .attr("fill", (d, i) => partitionColours[i]);

legendRow.append("text")
  .attr("x", 55)
  .attr("dy", "0.36em")
  .attr("text-anchor", "middle")
  .attr("font-size", 28)
  .attr("fill", "#111")
  .text(d => d);
</script>
</body>
</html>
